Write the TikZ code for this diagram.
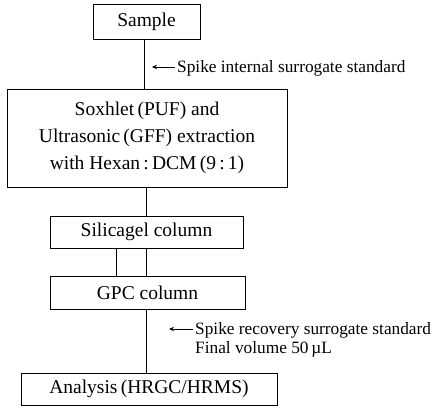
\documentclass[tikz,border=0pt]{standalone}
\usepackage{fontspec}
\setmainfont{Liberation Serif}
\usetikzlibrary{arrows.meta}
\begin{document}
\begin{tikzpicture}[x=1pt,y=-1pt,
  box/.style={draw, line width=1pt, inner sep=0pt, font=\fontsize{19.5}{27}\selectfont, align=center},
  lbl/.style={anchor=west, inner sep=0pt, font=\fontsize{17.3}{19}\selectfont},
  conn/.style={line width=1pt},
  arr/.style={line width=0.9pt, -{Stealth[length=5pt,width=4.5pt]}}]
\useasboundingbox (0,0) rectangle (433,407);
\node[box, minimum width=107pt, minimum height=35pt] (sample) at (146.5,21.5) {Sample};
\node[box, minimum width=280pt, minimum height=98pt] (sox) at (147,138) {Soxhlet\,(PUF) and\\Ultrasonic\,(GFF) extraction\\with Hexan\,:\,DCM\,(9\,:\,1)};
\node[box, minimum width=193pt, minimum height=32pt] (sil) at (146.5,232) {Silicagel column};
\node[box, minimum width=195pt, minimum height=33pt] (gpc) at (147.5,292.5) {GPC column};
\node[box, minimum width=256pt, minimum height=32pt] (ana) at (149,389) {Analysis\,(HRGC/HRMS)};
\draw[conn] ([xshift=-2pt]sample.south) -- ([xshift=-2pt]sample.south |- sox.north);
\draw[conn] ([xshift=-0.5pt]sil.north) -- ([xshift=-0.5pt]sil.north |- sox.south);
\draw[conn] ([xshift=-0.5pt]sil.south) -- ([xshift=-0.5pt]sil.south |- gpc.north);
\draw[conn] ([xshift=-30.5pt]sil.south) -- ([xshift=-30.5pt]sil.south |- gpc.north);
\draw[conn] ([xshift=-1.5pt]gpc.south) -- ([xshift=-1.5pt]gpc.south |- ana.north);
\node[lbl] (l1) at (177,68) {Spike internal surrogate standard};
\coordinate (t1) at (152,67);
\draw[arr] (175,67) -- (t1);
\node[lbl] (l2) at (195,330) {Spike recovery surrogate standard};
\node[lbl] (l3) at (195,349) {Final volume 50\,µL};
\coordinate (t2) at (169,329);
\draw[arr] (193,329) -- (t2);
\end{tikzpicture}
\end{document}
